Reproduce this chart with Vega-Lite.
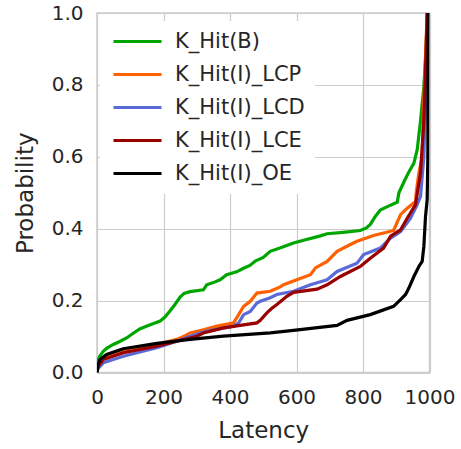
{
  "$schema": "https://vega.github.io/schema/vega-lite/v6.json",
  "width": 332.5,
  "height": 359.5,
  "autosize": {"type": "none"},
  "padding": {"left": 97, "top": 13, "right": 31, "bottom": 76},
  "background": "white",
  "config": {
    "font": "DejaVu Sans",
    "view": {"stroke": "#cccccc", "strokeWidth": 1.5},
    "axis": {"domain": false, "ticks": false, "grid": true, "gridColor": "#cccccc", "gridWidth": 1.2, "labelFontSize": 20, "titleFontSize": 23, "labelColor": "#262626", "titleColor": "#262626", "titleFontWeight": "normal", "labelFont": "DejaVu Sans", "titleFont": "DejaVu Sans"}
  },
  "datasets": {
    "curves": [
      {"s":"K_Hit(B)","x":0,"y":0.0},{"s":"K_Hit(B)","x":1,"y":0.02},{"s":"K_Hit(B)","x":4,"y":0.036},{"s":"K_Hit(B)","x":10,"y":0.048},{"s":"K_Hit(B)","x":19,"y":0.059},{"s":"K_Hit(B)","x":30,"y":0.068},{"s":"K_Hit(B)","x":49,"y":0.078},{"s":"K_Hit(B)","x":70,"y":0.087},{"s":"K_Hit(B)","x":89,"y":0.096},{"s":"K_Hit(B)","x":110,"y":0.11},{"s":"K_Hit(B)","x":130,"y":0.122},{"s":"K_Hit(B)","x":160,"y":0.133},{"s":"K_Hit(B)","x":190,"y":0.143},{"s":"K_Hit(B)","x":205,"y":0.155},{"s":"K_Hit(B)","x":220,"y":0.172},{"s":"K_Hit(B)","x":235,"y":0.19},{"s":"K_Hit(B)","x":250,"y":0.21},{"s":"K_Hit(B)","x":262,"y":0.22},{"s":"K_Hit(B)","x":280,"y":0.225},{"s":"K_Hit(B)","x":320,"y":0.23},{"s":"K_Hit(B)","x":330,"y":0.244},{"s":"K_Hit(B)","x":350,"y":0.25},{"s":"K_Hit(B)","x":370,"y":0.258},{"s":"K_Hit(B)","x":390,"y":0.272},{"s":"K_Hit(B)","x":420,"y":0.28},{"s":"K_Hit(B)","x":441,"y":0.29},{"s":"K_Hit(B)","x":460,"y":0.298},{"s":"K_Hit(B)","x":476,"y":0.31},{"s":"K_Hit(B)","x":500,"y":0.32},{"s":"K_Hit(B)","x":521,"y":0.337},{"s":"K_Hit(B)","x":550,"y":0.346},{"s":"K_Hit(B)","x":591,"y":0.36},{"s":"K_Hit(B)","x":630,"y":0.37},{"s":"K_Hit(B)","x":672,"y":0.38},{"s":"K_Hit(B)","x":692,"y":0.386},{"s":"K_Hit(B)","x":740,"y":0.39},{"s":"K_Hit(B)","x":792,"y":0.395},{"s":"K_Hit(B)","x":810,"y":0.402},{"s":"K_Hit(B)","x":822,"y":0.412},{"s":"K_Hit(B)","x":837,"y":0.434},{"s":"K_Hit(B)","x":852,"y":0.452},{"s":"K_Hit(B)","x":870,"y":0.46},{"s":"K_Hit(B)","x":903,"y":0.474},{"s":"K_Hit(B)","x":908,"y":0.5},{"s":"K_Hit(B)","x":923,"y":0.53},{"s":"K_Hit(B)","x":938,"y":0.558},{"s":"K_Hit(B)","x":953,"y":0.582},{"s":"K_Hit(B)","x":963,"y":0.62},{"s":"K_Hit(B)","x":973,"y":0.7},{"s":"K_Hit(B)","x":983,"y":0.795},{"s":"K_Hit(B)","x":990,"y":0.9},{"s":"K_Hit(B)","x":993,"y":1.0},

      {"s":"K_Hit(I)_LCP","x":0,"y":0},{"s":"K_Hit(I)_LCP","x":1,"y":0.01},{"s":"K_Hit(I)_LCP","x":4,"y":0.02},{"s":"K_Hit(I)_LCP","x":19,"y":0.041},{"s":"K_Hit(I)_LCP","x":40,"y":0.05},{"s":"K_Hit(I)_LCP","x":79,"y":0.059},{"s":"K_Hit(I)_LCP","x":130,"y":0.068},{"s":"K_Hit(I)_LCP","x":180,"y":0.078},{"s":"K_Hit(I)_LCP","x":240,"y":0.092},{"s":"K_Hit(I)_LCP","x":260,"y":0.1},{"s":"K_Hit(I)_LCP","x":280,"y":0.11},{"s":"K_Hit(I)_LCP","x":320,"y":0.119},{"s":"K_Hit(I)_LCP","x":361,"y":0.129},{"s":"K_Hit(I)_LCP","x":411,"y":0.138},{"s":"K_Hit(I)_LCP","x":426,"y":0.161},{"s":"K_Hit(I)_LCP","x":441,"y":0.184},{"s":"K_Hit(I)_LCP","x":461,"y":0.198},{"s":"K_Hit(I)_LCP","x":481,"y":0.221},{"s":"K_Hit(I)_LCP","x":521,"y":0.226},{"s":"K_Hit(I)_LCP","x":551,"y":0.238},{"s":"K_Hit(I)_LCP","x":561,"y":0.244},{"s":"K_Hit(I)_LCP","x":601,"y":0.258},{"s":"K_Hit(I)_LCP","x":642,"y":0.272},{"s":"K_Hit(I)_LCP","x":657,"y":0.291},{"s":"K_Hit(I)_LCP","x":692,"y":0.309},{"s":"K_Hit(I)_LCP","x":722,"y":0.337},{"s":"K_Hit(I)_LCP","x":762,"y":0.356},{"s":"K_Hit(I)_LCP","x":782,"y":0.365},{"s":"K_Hit(I)_LCP","x":832,"y":0.381},{"s":"K_Hit(I)_LCP","x":892,"y":0.395},{"s":"K_Hit(I)_LCP","x":913,"y":0.439},{"s":"K_Hit(I)_LCP","x":933,"y":0.457},{"s":"K_Hit(I)_LCP","x":958,"y":0.476},{"s":"K_Hit(I)_LCP","x":960,"y":0.5},{"s":"K_Hit(I)_LCP","x":968,"y":0.555},{"s":"K_Hit(I)_LCP","x":978,"y":0.6},{"s":"K_Hit(I)_LCP","x":983,"y":0.76},{"s":"K_Hit(I)_LCP","x":988,"y":0.88},{"s":"K_Hit(I)_LCP","x":993,"y":1.0},

      {"s":"K_Hit(I)_LCD","x":0,"y":0},{"s":"K_Hit(I)_LCD","x":1,"y":0.005},{"s":"K_Hit(I)_LCD","x":4,"y":0.012},{"s":"K_Hit(I)_LCD","x":19,"y":0.027},{"s":"K_Hit(I)_LCD","x":79,"y":0.045},{"s":"K_Hit(I)_LCD","x":180,"y":0.069},{"s":"K_Hit(I)_LCD","x":240,"y":0.087},{"s":"K_Hit(I)_LCD","x":280,"y":0.101},{"s":"K_Hit(I)_LCD","x":330,"y":0.115},{"s":"K_Hit(I)_LCD","x":411,"y":0.129},{"s":"K_Hit(I)_LCD","x":426,"y":0.138},{"s":"K_Hit(I)_LCD","x":441,"y":0.161},{"s":"K_Hit(I)_LCD","x":461,"y":0.17},{"s":"K_Hit(I)_LCD","x":481,"y":0.193},{"s":"K_Hit(I)_LCD","x":491,"y":0.198},{"s":"K_Hit(I)_LCD","x":521,"y":0.208},{"s":"K_Hit(I)_LCD","x":541,"y":0.217},{"s":"K_Hit(I)_LCD","x":591,"y":0.226},{"s":"K_Hit(I)_LCD","x":642,"y":0.244},{"s":"K_Hit(I)_LCD","x":692,"y":0.258},{"s":"K_Hit(I)_LCD","x":722,"y":0.281},{"s":"K_Hit(I)_LCD","x":782,"y":0.304},{"s":"K_Hit(I)_LCD","x":802,"y":0.328},{"s":"K_Hit(I)_LCD","x":852,"y":0.346},{"s":"K_Hit(I)_LCD","x":883,"y":0.374},{"s":"K_Hit(I)_LCD","x":913,"y":0.392},{"s":"K_Hit(I)_LCD","x":943,"y":0.429},{"s":"K_Hit(I)_LCD","x":963,"y":0.467},{"s":"K_Hit(I)_LCD","x":973,"y":0.49},{"s":"K_Hit(I)_LCD","x":983,"y":0.6},{"s":"K_Hit(I)_LCD","x":990,"y":0.8},{"s":"K_Hit(I)_LCD","x":995,"y":1.0},

      {"s":"K_Hit(I)_LCE","x":0,"y":0},{"s":"K_Hit(I)_LCE","x":1,"y":0.008},{"s":"K_Hit(I)_LCE","x":4,"y":0.018},{"s":"K_Hit(I)_LCE","x":19,"y":0.036},{"s":"K_Hit(I)_LCE","x":79,"y":0.055},{"s":"K_Hit(I)_LCE","x":180,"y":0.073},{"s":"K_Hit(I)_LCE","x":260,"y":0.092},{"s":"K_Hit(I)_LCE","x":300,"y":0.101},{"s":"K_Hit(I)_LCE","x":320,"y":0.11},{"s":"K_Hit(I)_LCE","x":380,"y":0.124},{"s":"K_Hit(I)_LCE","x":481,"y":0.138},{"s":"K_Hit(I)_LCE","x":491,"y":0.145},{"s":"K_Hit(I)_LCE","x":511,"y":0.166},{"s":"K_Hit(I)_LCE","x":525,"y":0.178},{"s":"K_Hit(I)_LCE","x":541,"y":0.189},{"s":"K_Hit(I)_LCE","x":571,"y":0.212},{"s":"K_Hit(I)_LCE","x":591,"y":0.223},{"s":"K_Hit(I)_LCE","x":662,"y":0.232},{"s":"K_Hit(I)_LCE","x":692,"y":0.244},{"s":"K_Hit(I)_LCE","x":732,"y":0.267},{"s":"K_Hit(I)_LCE","x":792,"y":0.295},{"s":"K_Hit(I)_LCE","x":822,"y":0.318},{"s":"K_Hit(I)_LCE","x":862,"y":0.346},{"s":"K_Hit(I)_LCE","x":883,"y":0.379},{"s":"K_Hit(I)_LCE","x":913,"y":0.397},{"s":"K_Hit(I)_LCE","x":933,"y":0.429},{"s":"K_Hit(I)_LCE","x":958,"y":0.467},{"s":"K_Hit(I)_LCE","x":973,"y":0.555},{"s":"K_Hit(I)_LCE","x":983,"y":0.7},{"s":"K_Hit(I)_LCE","x":990,"y":0.9},{"s":"K_Hit(I)_LCE","x":993,"y":1.0},

      {"s":"K_Hit(I)_OE","x":0,"y":0},{"s":"K_Hit(I)_OE","x":3,"y":0.02},{"s":"K_Hit(I)_OE","x":9,"y":0.036},{"s":"K_Hit(I)_OE","x":29,"y":0.05},{"s":"K_Hit(I)_OE","x":79,"y":0.066},{"s":"K_Hit(I)_OE","x":180,"y":0.081},{"s":"K_Hit(I)_OE","x":280,"y":0.092},{"s":"K_Hit(I)_OE","x":380,"y":0.101},{"s":"K_Hit(I)_OE","x":521,"y":0.11},{"s":"K_Hit(I)_OE","x":591,"y":0.117},{"s":"K_Hit(I)_OE","x":722,"y":0.131},{"s":"K_Hit(I)_OE","x":752,"y":0.145},{"s":"K_Hit(I)_OE","x":822,"y":0.161},{"s":"K_Hit(I)_OE","x":892,"y":0.184},{"s":"K_Hit(I)_OE","x":913,"y":0.203},{"s":"K_Hit(I)_OE","x":928,"y":0.217},{"s":"K_Hit(I)_OE","x":938,"y":0.235},{"s":"K_Hit(I)_OE","x":953,"y":0.267},{"s":"K_Hit(I)_OE","x":968,"y":0.295},{"s":"K_Hit(I)_OE","x":978,"y":0.309},{"s":"K_Hit(I)_OE","x":983,"y":0.35},{"s":"K_Hit(I)_OE","x":988,"y":0.434},{"s":"K_Hit(I)_OE","x":993,"y":0.481},{"s":"K_Hit(I)_OE","x":995,"y":0.6},{"s":"K_Hit(I)_OE","x":996,"y":1.0}
    ]
  },
  "data": {"name": "curves"},
  "mark": {"type": "line", "strokeWidth": 3.2, "clip": true},
  "encoding": {
    "x": {"field": "x", "type": "quantitative", "title": "Latency", "scale": {"domain": [0, 1000], "nice": false},
      "axis": {"values": [0, 200, 400, 600, 800, 1000], "format": "d", "labelPadding": 15, "titlePadding": 12, "labelFlush": false}},
    "y": {"field": "y", "type": "quantitative", "title": "Probability", "scale": {"domain": [0, 1], "nice": false},
      "axis": {"values": [0, 0.2, 0.4, 0.6, 0.8, 1.0], "format": ".1f", "labelPadding": 14, "titlePadding": 14}},
    "color": {"field": "s", "type": "nominal",
      "scale": {"domain": ["K_Hit(B)", "K_Hit(I)_LCP", "K_Hit(I)_LCD", "K_Hit(I)_LCE", "K_Hit(I)_OE"], "range": ["#00a600", "#ff6000", "#5a6ad6", "#990000", "#000000"]},
      "legend": {"title": null, "orient": "none", "legendX": 3, "legendY": 8, "padding": 10, "fillColor": "white", "strokeColor": null,
        "symbolType": "M-4,0H4", "symbolSize": 144, "symbolStrokeWidth": 3.2, "symbolOffset": 17, "labelOffset": 27,
        "labelFontSize": 21, "labelFont": "DejaVu Sans", "labelColor": "#262626", "rowPadding": 11, "labelLimit": 400}}
  }
}
